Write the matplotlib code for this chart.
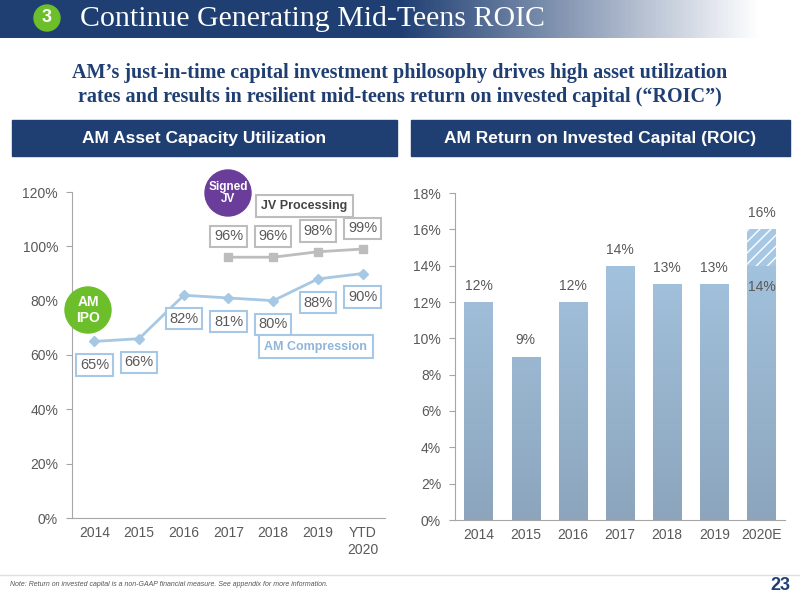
import numpy as np
import matplotlib.pyplot as plt
from matplotlib.patches import Rectangle, Circle

plt.rcParams["font.family"] = ["Liberation Sans", "DejaVu Sans"]

years_left = ["2014", "2015", "2016", "2017", "2018", "2019", "YTD\n2020"]
compression = [65, 66, 82, 81, 80, 88, 90]
jv_years = [3, 4, 5, 6]
jv_processing = [96, 96, 98, 99]

years_right = ["2014", "2015", "2016", "2017", "2018", "2019", "2020E"]
roic = [12, 9, 12, 14, 13, 13, 14]
roic_upside = [0, 0, 0, 0, 0, 0, 2]

NAVY = "#1f3f73"
BLUE = "#a6c8e4"
GREY = "#bdbdbd"
TXT = "#595959"

fig = plt.figure(figsize=(8, 6), dpi=100)
W, H = 800, 600

def fx(px):
    return px / W

def fy(py):
    return 1 - py / H

def circle(cx, cy, r, col):
    # radius in pixels, drawn in inches so it stays round
    fig.patches.append(Circle((cx / 100, (H - cy) / 100), r / 100,
                              transform=fig.dpi_scale_trans, color=col, zorder=5))

# header band with gradient
hdr = fig.add_axes([0, fy(38), 1, 38 / H])
grad = np.linspace(0, 1, 256)
c0 = np.array([0x1f, 0x3f, 0x73]) / 255
c1 = np.array([1, 1, 1])
t = np.clip((grad - 0.5) / 0.45, 0, 1)[:, None]
row = c0 * (1 - t) + c1 * t
hdr.imshow(row[None, :, :], aspect="auto", extent=[0, 1, 0, 1])
hdr.set_axis_off()
circle(47, 18, 13, "#6cbf2a")
fig.text(fx(47), fy(18), "3", color="white", ha="center", va="center",
         fontsize=13, weight="bold", zorder=6)
fig.text(fx(80), fy(19), "Continue Generating Mid-Teens ROIC", color="white",
         fontsize=21.5, family="Liberation Serif", va="center")

fig.text(0.5, fy(85), "AM\u2019s just-in-time capital investment philosophy drives high asset utilization\n"
         "rates and results in resilient mid-teens return on invested capital (\u201cROIC\u201d)",
         ha="center", va="center", color=NAVY, fontsize=14.5, weight="bold",
         family="Liberation Serif", linespacing=1.3)

for x0, x1, label in [(12, 397, "AM Asset Capacity Utilization"),
                      (411, 790, "AM Return on Invested Capital (ROIC)")]:
    fig.patches.append(Rectangle((fx(x0), fy(156)), (x1 - x0) / W, 36 / H,
                                 transform=fig.transFigure, color=NAVY))
    fig.text(fx((x0 + x1) / 2), fy(138), label, color="white", ha="center",
             va="center", fontsize=12.5, weight="bold")

# left chart
ax = fig.add_axes([fx(72), fy(518), (385 - 72) / W, (518 - 192) / H])
x = np.arange(len(years_left))
ax.plot(x, compression, color=BLUE, lw=2, marker="D", ms=5)
ax.plot(jv_years, jv_processing, color=GREY, lw=2, marker="s", ms=6)
ax.set_ylim(0, 120)
ax.set_xlim(-0.5, 6.5)
ax.set_yticks(range(0, 121, 20))
ax.set_yticklabels([f"{v}%" for v in range(0, 121, 20)])
ax.set_xticks(x)
ax.set_xticklabels(years_left)
for v, xi in zip(compression, x):
    ax.annotate(f"{v}%", (xi, v), xytext=(0, -17), textcoords="offset points",
                ha="center", va="center", color=TXT, fontsize=10.5,
                bbox=dict(boxstyle="square,pad=0.25", fc="white", ec=BLUE, lw=1.5))
for v, xi in zip(jv_processing, jv_years):
    ax.annotate(f"{v}%", (xi, v), xytext=(0, 15), textcoords="offset points",
                ha="center", va="center", color=TXT, fontsize=10.5,
                bbox=dict(boxstyle="square,pad=0.25", fc="white", ec=GREY, lw=1.5))
ax.text(4.95, 63, "AM Compression", ha="center", va="center", color="#8fb6d9",
        fontsize=9, weight="bold",
        bbox=dict(boxstyle="square,pad=0.45", fc="white", ec=BLUE, lw=1.5))
ax.text(4.7, 115, "JV Processing", ha="center", va="center", color="#444444",
        fontsize=9, weight="bold",
        bbox=dict(boxstyle="square,pad=0.4", fc="white", ec=GREY, lw=1.5))

for cx, cy, col, lab, fs in [(88, 310, "#6cbf2a", "AM\nIPO", 10),
                             (228, 193, "#6a3d9a", "Signed\nJV", 8.5)]:
    circle(cx, cy, 23, col)
    fig.text(fx(cx), fy(cy), lab, color="white", ha="center", va="center",
             fontsize=fs, weight="bold", zorder=6, linespacing=1.1)

# right chart
ax2 = fig.add_axes([fx(455), fy(520), (785 - 455) / W, (520 - 193) / H])
xr = np.arange(len(years_right))
bars = ax2.bar(xr, roic, width=0.6, color=BLUE, zorder=2)
ax2.bar(xr, roic_upside, bottom=roic, width=0.6, color=BLUE, hatch="///",
        edgecolor="white", lw=0, zorder=2)
gtop = np.array([0xa9, 0xca, 0xe6]) / 255
gbot = np.array([0x8c, 0xa5, 0xbd]) / 255
g = np.linspace(0, 1, 256)[:, None]
img = (gtop * (1 - g) + gbot * g)[:, None, :]
for b in bars:
    im = ax2.imshow(img, extent=[b.get_x(), b.get_x() + b.get_width(), 0, 18],
                    aspect="auto", zorder=2.5)
    im.set_clip_path(b)
for xi, v, u in zip(xr, roic, roic_upside):
    ax2.text(xi, v + u + 0.5, f"{v + u}%", ha="center", va="bottom", color=TXT, fontsize=10)
    if u:
        ax2.text(xi, v - 1.2, f"{v}%", ha="center", va="center", color=TXT, fontsize=10, zorder=4)
ax2.set_ylim(0, 18)
ax2.set_xlim(-0.5, 6.5)
ax2.set_yticks(range(0, 19, 2))
ax2.set_yticklabels([f"{v}%" for v in range(0, 19, 2)])
ax2.set_xticks(xr)
ax2.set_xticklabels(years_right)

for a in (ax, ax2):
    for s in ("top", "right"):
        a.spines[s].set_visible(False)
    for s in ("left", "bottom"):
        a.spines[s].set_color("#a6a6a6")
    a.tick_params(colors=TXT, labelsize=10, length=0, pad=6)
    a.tick_params(axis="y", length=4, color="#a6a6a6", direction="out")

fig.add_artist(plt.Line2D([0, 1], [fy(575), fy(575)], color="#e0e0e0", lw=1))
fig.text(fx(10), fy(584), "Note: Return on invested capital is a non-GAAP financial measure. See appendix for more information.",
         fontsize=5, style="italic", color="#555555", va="center")
fig.text(fx(790), fy(585), "23", fontsize=13, weight="bold", color=NAVY, ha="right", va="center")

fig.savefig("out.png", dpi=100)
